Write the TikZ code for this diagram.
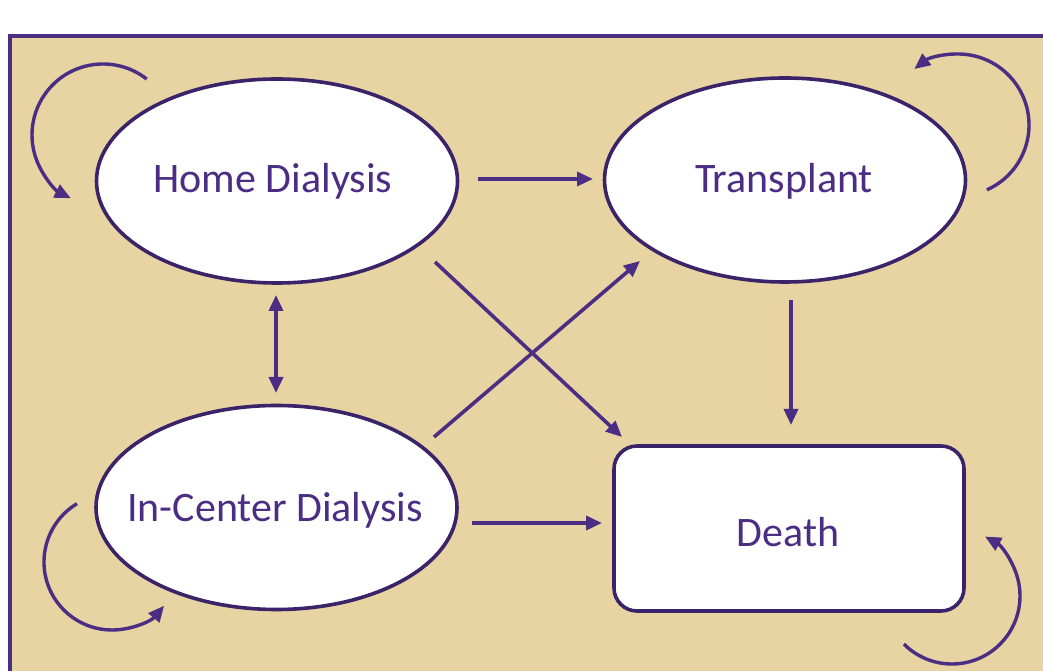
\documentclass[tikz,border=0pt]{standalone}
\usepackage{fontspec}
\setmainfont{Carlito}
\usetikzlibrary{arrows.meta,shapes.geometric,calc}
\definecolor{uwpurple}{HTML}{4B2E83}
\definecolor{edgepurple}{HTML}{3A2368}
\definecolor{bgtan}{HTML}{E8D3A2}
\begin{document}
\begin{tikzpicture}[x=1pt,y=1pt,
  state/.style={ellipse, draw=edgepurple, line width=3.6pt, fill=white,
    minimum width=361pt, minimum height=204pt, inner sep=0pt},
  absorb/.style={rectangle, rounded corners=23pt, draw=edgepurple, line width=3.6pt,
    fill=white, minimum width=350pt, minimum height=165pt, inner sep=0pt},
  lbl/.style={text=uwpurple, font=\fontsize{42}{50}\selectfont, anchor=base, inner sep=0pt},
  arr/.style={draw=uwpurple, line width=3.6pt, -{Triangle[length=16pt,width=14pt]}},
  darr/.style={draw=uwpurple, line width=3.6pt,
    {Triangle[length=16pt,width=14pt]}-{Triangle[length=16pt,width=14pt]}},
  selfloop/.style={draw=uwpurple, line width=3.4pt, -{Triangle[length=16pt,width=14pt]}}]

\useasboundingbox (0,0) rectangle (1043,671);
\fill[white] (0,0) rectangle (1043,671);
\fill[bgtan] (10,0) rectangle (1043,635);
\draw[uwpurple, line width=4.5pt] (10,0) -- (10,635) -- (1043,635);

% states
\node[state] (hd) at (277,490) {};
\node[state] (tr) at (785,491) {};
\node[state] (ic) at (276.5,163.5) {};
\node[absorb] (dt) at (789,142.5) {};

% labels
\node[lbl] (hdl) at ([shift={(-4,-12)}]hd.center) {Home Dialysis};
\node[lbl] (trl) at ([shift={(-1,-13)}]tr.center) {Transplant};
\node[lbl] (icl) at ([shift={(-1.5,-14.5)}]ic.center) {In-Center Dialysis};
\node[lbl] (dtl) at ([shift={(-1,-18.5)}]dt.center) {Death};

% transitions
\draw[arr] ([shift={(201,2)}]hd.center) -- ([shift={(-192,1)}]tr.center);
\draw[darr] ([shift={(-1,-114)}]hd.center) -- ([shift={(-0.5,114.5)}]ic.center);
\draw[arr] ([shift={(158,-81)}]hd.center) -- ([shift={(-167,91.5)}]dt.center);
\draw[arr] ([shift={(157.5,70.5)}]ic.center) -- ([shift={(-145,-81)}]tr.center);
\draw[arr] ([shift={(6,-120)}]tr.center) -- ([shift={(2,103.5)}]dt.center);
\draw[arr] ([shift={(195.5,-15.5)}]ic.center) -- ([shift={(-187,5.5)}]dt.center);

% self loops
\coordinate (lhd) at (103,536);
\coordinate (ltr) at (958,546);
\coordinate (lic) at (112,109);
\coordinate (ldt) at (952,75);
\draw[selfloop] ([shift={(52:71)}]lhd) arc[start angle=52, end angle=243, radius=71];
\draw[selfloop] ([shift={(-66:71)}]ltr) arc[start angle=-66, end angle=128, radius=71];
\draw[selfloop] ([shift={(121:68)}]lic) arc[start angle=121, end angle=320, radius=68];
\draw[selfloop] ([shift={(225:68)}]ldt) arc[start angle=225, end angle=421, radius=68];
\end{tikzpicture}
\end{document}
